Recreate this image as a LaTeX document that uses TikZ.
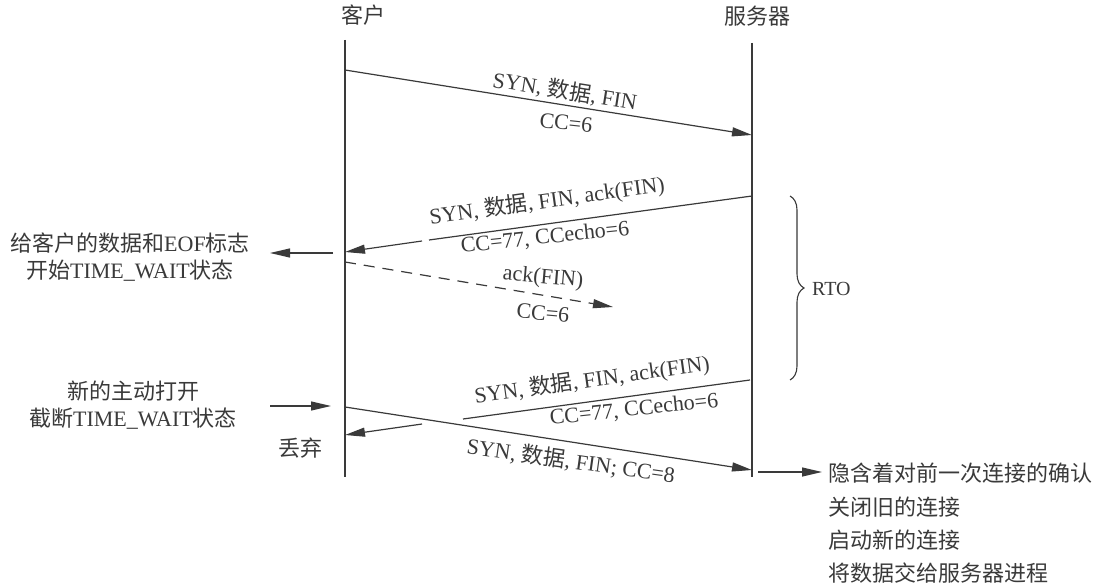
\documentclass[tikz,border=0pt]{standalone}
\usepackage{fontspec}
\setmainfont{Liberation Serif}
\newfontfamily\cjk{Noto Sans CJK SC}
\usetikzlibrary{arrows.meta,decorations.pathreplacing}
\definecolor{ink}{HTML}{3A3A3A}
\tikzset{
  lbl/.style={font=\fontsize{22}{27}\selectfont, text=ink, inner sep=0pt},
  msg/.style={draw=ink, line width=1.2pt, -{Triangle[length=20pt,width=9pt]}},
  seg/.style={draw=ink, line width=1.2pt},
  life/.style={draw=ink, line width=1.2pt},
}
\begin{document}
\begin{tikzpicture}[x=1pt,y=-1pt]
\useasboundingbox[fill=white] (0,0) rectangle (1113,585);
% headers
\node[lbl] (cl) at (363,15) {\cjk 客户};
\node[lbl] (sv) at (757,16) {\cjk 服务器};
% lifelines
\coordinate (ct) at (345,40); \coordinate (cb) at (345,477);
\coordinate (st) at (752,43); \coordinate (sb) at (752,477);
\draw[life] (ct) -- (cb);
\draw[life] (st) -- (sb);
% message 1
\coordinate (m1a) at (345,70); \coordinate (m1b) at (752,135);
\draw[msg] (m1a) -- (m1b);
\node[lbl, rotate=-9] (m1t) at (565,91) {SYN, {\cjk 数据}, FIN};
\node[lbl, rotate=-6] (m1c) at (566,123) {CC=6};
% message 2 (server -> client)
\coordinate (m2a) at (752,196); \coordinate (m2g1) at (429,240);
\coordinate (m2g2) at (422,241); \coordinate (m2b) at (345,252);
\draw[seg] (m2a) -- (m2g1);
\draw[msg] (m2g2) -- (m2b);
\node[lbl, rotate=8] (m2t) at (547,201) {SYN, {\cjk 数据}, FIN, ack(FIN)};
\node[lbl, rotate=6] (m2c) at (545,238) {CC=77, CCecho=6};
% left note 1
\coordinate (n1a) at (333,253); \coordinate (n1b) at (270,253);
\draw[msg] (n1a) -- (n1b);
\node[lbl, align=center] (n1) at (130,257) {{\cjk 给客户的数据和}EOF{\cjk 标志}\\{\cjk 开始}TIME\_WAIT{\cjk 状态}};
% dashed ack
\coordinate (m3a) at (345,262); \coordinate (m3b) at (613,307);
\draw[msg, dash pattern=on 11pt off 8pt] (m3a) -- (m3b);
\node[lbl, rotate=-5] (m3t) at (543,278) {ack(FIN)};
\node[lbl, rotate=-5] (m3c) at (543,313) {CC=6};
% RTO brace
\coordinate (ba) at (790,196); \coordinate (bb) at (790,380);
\draw[ink, line width=1.1pt, decorate, decoration={brace, amplitude=14pt}] (ba) -- (bb);
\node[lbl, anchor=west, font=\fontsize{20}{24}\selectfont] (rto) at (812,289) {RTO};
% new open
\node[lbl, align=center] (n2) at (133,405) {{\cjk 新的主动打开}\\{\cjk 截断}TIME\_WAIT{\cjk 状态}};
\coordinate (n2a) at (270,406); \coordinate (n2b) at (331,406);
\draw[msg] (n2a) -- (n2b);
\node[lbl] (drop) at (300,448) {\cjk 丢弃};
% message 4 (server -> client, retransmission)
\coordinate (m4a) at (750,380); \coordinate (m4g1) at (463,419);
\coordinate (m4g2) at (422,424); \coordinate (m4b) at (345,435);
\draw[seg] (m4a) -- (m4g1);
\draw[msg] (m4g2) -- (m4b);
\node[lbl, rotate=8] (m4t) at (592,380) {SYN, {\cjk 数据}, FIN, ack(FIN)};
\node[lbl, rotate=6] (m4c) at (634,410) {CC=77, CCecho=6};
% message 5 (client -> server)
\coordinate (m5a) at (345,407); \coordinate (m5b) at (752,470);
\draw[msg] (m5a) -- (m5b);
\node[lbl, rotate=-8] (m5t) at (571,461) {SYN, {\cjk 数据}, FIN; CC=8};
% right note
\coordinate (n3a) at (758,472); \coordinate (n3b) at (822,472);
\draw[msg] (n3a) -- (n3b);
\node[lbl, anchor=north west, align=left, font=\fontsize{22}{33.3}\selectfont\cjk] (n3) at (828,463) {隐含着对前一次连接的确认\\关闭旧的连接\\启动新的连接\\将数据交给服务器进程};
\end{tikzpicture}
\end{document}
